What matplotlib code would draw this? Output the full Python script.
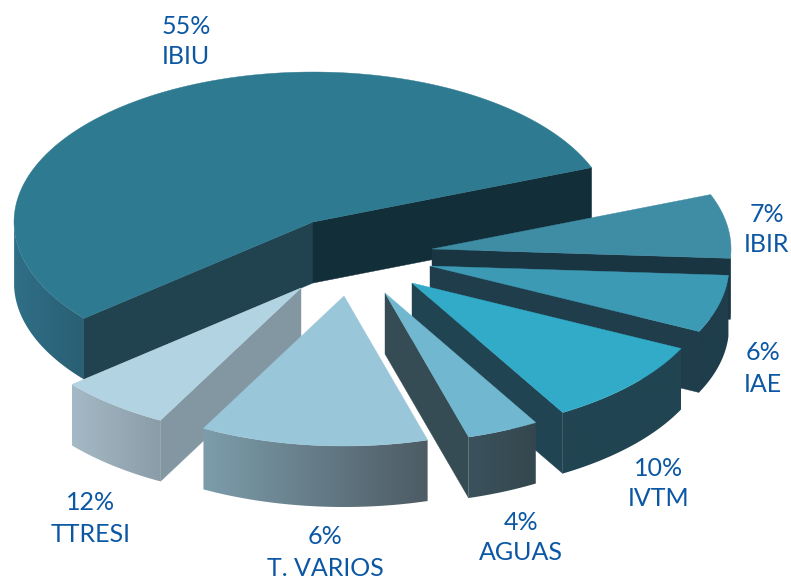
#!/usr/bin/env python3
# -*- coding: utf-8 -*-
"""Tarta 3D separada: reparto de ingresos por impuesto."""

import numpy as np
import matplotlib
matplotlib.use('Agg')
import matplotlib.pyplot as plt
from matplotlib.colors import LinearSegmentedColormap
from matplotlib.patches import Polygon

plt.rcParams['font.family'] = ['Lato', 'DejaVu Sans']

# datos
categories = ['IBIU', 'IBIR', 'IAE', 'IVTM', 'AGUAS', 'T. VARIOS', 'TTRESI']
printed_pct = ['55%', '7%', '6%', '10%', '4%', '6%', '12%']
# tamano dibujado de cada porcion (T. VARIOS y TTRESI estan cruzadas en el original)
drawn_share = [55.2, 6.9, 6.2, 9.4, 3.9, 12.3, 6.1]

# geometria de la tarta, en pixeles
CENTER = (313, 222)
RX, RY = 299, 150
DEPTH = 61
START_ANGLE = 220
offsets = [(0, 0), (119, 27), (117, 44), (99, 61), (72, 71), (31, 74), (-12, 66)]

top_colors = ['#2e7a90', '#3f8ca5', '#3d9ab5', '#32abc8', '#70b7cf', '#9ac6da', '#b2d3e1']
# cara de corte: (inicio, fin) en sentido horario
cut_colors = [('#21424f', '#122e39'), ('#1a3542', '#1a3542'), ('#1f3d4b', '#1f3d4b'),
              ('#214452', '#214452'), ('#364c55', '#364c55'), ('#5a6a73', '#5a6a73'),
              ('#8397a2', '#8397a2')]
wall_colors = [('#2f6f87', '#2a5f74'), ('#1a3542', '#1a3542'), ('#1f3d4b', '#1f3d4b'),
               ('#214452', '#214452'), ('#3b525c', '#34474f'), ('#7d9dab', '#4d5b64'),
               ('#a5bac6', '#8a9ca8')]
draw_order = [0, 1, 2, 3, 4, 6, 5]

label_pos = [(186, 26, 57), (767, 214, 245), (763, 353, 384), (659, 468, 498),
             (521, 523, 553), (325, 536, 568), (91, 502, 534)]
TEXT_COLOR = '#0b57a4'


def rim_point(cx, cy, angle):
    rad = np.radians(angle)
    return cx + RX * np.cos(rad), cy - RY * np.sin(rad)


def gradient_fill(ax, pts, left, right):
    """Rellena el poligono con un degradado horizontal."""
    patch = Polygon(pts, closed=True, facecolor='none', edgecolor='none')
    ax.add_patch(patch)
    cmap = LinearSegmentedColormap.from_list('wall', [left, right])
    xs = [p[0] for p in pts]
    ys = [p[1] for p in pts]
    grad = np.linspace(0, 1, 256).reshape(1, -1)
    im = ax.imshow(grad, cmap=cmap, aspect='auto', interpolation='bilinear',
                   extent=(min(xs), max(xs), max(ys), min(ys)), zorder=patch.get_zorder())
    im.set_clip_path(patch)


def cut_visible(cx, cy, edge, body):
    """La cara se ve si el cuerpo de la porcion queda por encima de la arista."""
    slope = (edge[1] - cy) / (edge[0] - cx)
    return body[1] < cy + slope * (body[0] - cx)


def draw_slice(ax, idx, a1, a2):
    cx = CENTER[0] + offsets[idx][0]
    cy = CENTER[1] + offsets[idx][1]
    body = rim_point(cx, cy, (a1 + a2) / 2)

    # caras de corte
    for angle, color in zip((a1, a2), cut_colors[idx]):
        edge = rim_point(cx, cy, angle)
        if cut_visible(cx, cy, edge, body):
            pts = [(cx, cy), edge, (edge[0], edge[1] + DEPTH), (cx, cy + DEPTH)]
            ax.add_patch(Polygon(pts, closed=True, facecolor=color, edgecolor=color, lw=0.3))

    # pared exterior, solo la parte que mira al frente
    angles = np.linspace(a1, a2, 120)
    front = angles[np.sin(np.radians(angles)) <= 0.0]
    if len(front) > 1:
        upper = [rim_point(cx, cy, a) for a in front]
        lower = [(x, y + DEPTH) for x, y in upper[::-1]]
        gradient_fill(ax, upper + lower, *wall_colors[idx])

    # cara superior
    top = [(cx, cy)] + [rim_point(cx, cy, a) for a in angles]
    ax.add_patch(Polygon(top, closed=True, facecolor=top_colors[idx],
                         edgecolor=top_colors[idx], lw=0.3))


def main():
    fig = plt.figure(figsize=(7.91, 5.80), dpi=100)
    ax = fig.add_axes([0, 0, 1, 1])

    spans = 360.0 * np.array(drawn_share) / sum(drawn_share)
    ends = START_ANGLE - np.cumsum(spans)
    starts = ends + spans
    for idx in draw_order:
        draw_slice(ax, idx, starts[idx], ends[idx])

    for idx, name in enumerate(categories):
        x, y1, y2 = label_pos[idx]
        ax.text(x, y1, printed_pct[idx], color=TEXT_COLOR, fontsize=18, ha='center', va='center')
        ax.text(x, y2, name, color=TEXT_COLOR, fontsize=18, ha='center', va='center')

    ax.set_xlim(0, 791)
    ax.set_ylim(580, 0)
    ax.axis('off')
    fig.savefig('out.png', dpi=100)


if __name__ == "__main__":
    main()
